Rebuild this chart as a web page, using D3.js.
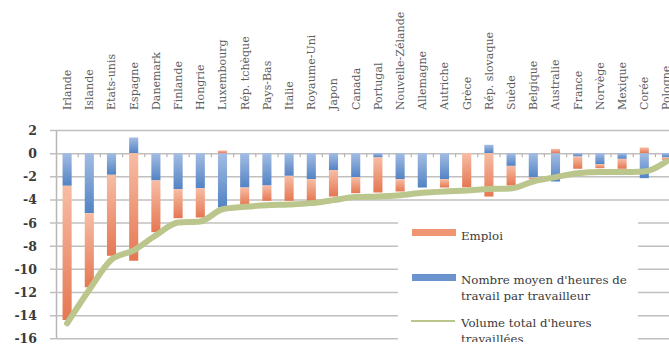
<!DOCTYPE html>
<html>
<head>
<meta charset="utf-8">
<script src="https://cdn.jsdelivr.net/npm/d3@7"></script>
<style>
  body { margin: 0; background: #fff; }
  svg { display: block; }
  .grid line { stroke: #c2c0be; stroke-width: 1.5; }
  .ylab { font-family: "DejaVu Serif", serif; font-size: 12.5px; font-weight: bold; fill: #3a3a3a; }
  .clab { font-family: "DejaVu Serif", serif; font-size: 11px; fill: #5e5e5e; }
  .leg text { font-family: "DejaVu Serif", serif; font-size: 11.8px; fill: #3a3a3a; }
</style>
</head>
<body>
<svg width="669" height="351"></svg>
<script>
// valeurs (variation en %)
const countries = ["Irlande", "Islande", "Etats-unis", "Espagne", "Danemark", "Finlande",
  "Hongrie", "Luxembourg", "Rép. tchèque", "Pays-Bas", "Italie", "Royaume-Uni", "Japon",
  "Canada", "Portugal", "Nouvelle-Zélande", "Allemagne", "Autriche", "Grèce",
  "Rép. slovaque", "Suède", "Belgique", "Australie", "France", "Norvège", "Mexique",
  "Corée", "Pologne"];

const emploi = [-11.6, -6.4, -7.0, -9.3, -4.47, -2.51, -2.53, 0.23, -1.55, -1.32, -2.16,
  -1.87, -2.28, -1.39, -3.03, -1.06, 0.0, -0.72, -2.95, -3.75, -1.7, -0.15, 0.37, -1.06,
  -0.35, -0.86, 0.49, -0.2];

const heures = [-2.82, -5.19, -1.87, 1.35, -2.36, -3.11, -3.03, -4.7, -2.97, -2.8, -1.96,
  -2.25, -1.47, -2.07, -0.37, -2.25, -2.97, -2.25, 0.0, 0.72, -1.1, -2.1, -2.45, -0.29,
  -0.95, -0.49, -2.16, -0.37];

const volume = [-14.7, -11.8, -9.2, -8.4, -7.1, -6.0, -5.9, -4.85, -4.64, -4.5, -4.44,
  -4.32, -4.06, -3.8, -3.75, -3.63, -3.43, -3.31, -3.23, -3.1, -3.05, -2.45, -2.07, -1.73,
  -1.64, -1.64, -1.58, -0.72];

const yTicks = [2, 0, -2, -4, -6, -8, -10, -12, -14, -16];

const seriesNames = ["Emploi", "Nombre moyen d'heures de travail par travailleur",
  "Volume total d'heures travaillées"];

const svg = d3.select("svg");

const x = d3.scaleBand()
  .domain(countries)
  .range([56, 56 + countries.length * 22.2]);

const y = d3.scaleLinear()
  .domain([-16, 2])
  .range([338.3, 130]);

const barW = x.bandwidth() * 0.41;
const cx = d => x(d) + x.bandwidth() / 2;

// dégradés des barres
const defs = svg.append("defs");
const grad = (id, c1, c2) => {
  const g = defs.append("linearGradient").attr("id", id)
    .attr("x1", 0).attr("y1", 0).attr("x2", 0).attr("y2", 1);
  g.append("stop").attr("offset", "0%").attr("stop-color", c1);
  g.append("stop").attr("offset", "100%").attr("stop-color", c2);
};
grad("gOrange", "#f7bda5", "#e57752");
grad("gBlue", "#a4bde3", "#5283c4");

// grille + axe vertical
const yAxis = d3.axisLeft(y)
  .tickValues(yTicks)
  .tickFormat(d => String(d))
  .tickSize(-(669 - 56 + 20))
  .tickSizeOuter(0);

const gy = svg.append("g")
  .attr("class", "grid")
  .attr("transform", "translate(56,0)")
  .call(yAxis);
gy.select(".domain").attr("stroke", "#b8b6b4").attr("stroke-width", 1.5);
gy.selectAll(".tick line").attr("x1", -6);
gy.selectAll(".tick text")
  .attr("class", "ylab")
  .attr("x", -19)
  .attr("dy", "0.36em");

// barres empilées
const rows = countries.map((c, i) => ({ pays: c, heures: heures[i], emploi: emploi[i] }));
const stack = d3.stack()
  .keys(["heures", "emploi"])
  .offset(d3.stackOffsetDiverging);
const stacked = stack(rows);
const fills = { heures: "url(#gBlue)", emploi: "url(#gOrange)" };

svg.append("g").selectAll("g")
  .data(stacked)
  .join("g")
  .attr("fill", s => fills[s.key])
  .selectAll("rect")
  .data(s => s)
  .join("rect")
  .attr("x", d => cx(d.data.pays) - barW / 2)
  .attr("width", barW)
  .attr("y", d => y(Math.max(d[0], d[1])))
  .attr("height", d => Math.abs(y(d[0]) - y(d[1])));

// petites graduations sur l'axe des catégories
svg.append("g").selectAll("line")
  .data(countries)
  .join("line")
  .attr("x1", d => x(d) + x.bandwidth())
  .attr("x2", d => x(d) + x.bandwidth())
  .attr("y1", y(0))
  .attr("y2", y(0) + 4)
  .attr("stroke", "#b8b6b4")
  .attr("stroke-width", 1.2);

// courbe du volume total
const line = d3.line()
  .x((d, i) => cx(countries[i]))
  .y(d => y(d))
  .curve(d3.curveMonotoneX);

svg.append("path")
  .datum(volume)
  .attr("d", line)
  .attr("fill", "none")
  .attr("stroke", "#bbc68c")
  .attr("stroke-width", 6)
  .attr("stroke-linecap", "round")
  .attr("stroke-linejoin", "round");

// noms des pays
svg.append("g").selectAll("text")
  .data(countries)
  .join("text")
  .attr("class", "clab")
  .attr("transform", d => `translate(${cx(d)},110) rotate(-90)`)
  .attr("dy", "0.35em")
  .text(d => d);

// légende
const leg = svg.append("g").attr("class", "leg");
leg.append("rect")
  .attr("x", 398).attr("y", 208)
  .attr("width", 240).attr("height", 150)
  .attr("fill", "#fff");

defs.append("clipPath").attr("id", "legClip")
  .append("rect").attr("x", 398).attr("y", 208).attr("width", 240).attr("height", 134);

leg.append("rect").attr("x", 412).attr("y", 229).attr("width", 44).attr("height", 7)
  .attr("fill", "#ef9572");
leg.append("rect").attr("x", 412).attr("y", 274).attr("width", 44).attr("height", 7)
  .attr("fill", "#6b94cf");
leg.append("line").attr("x1", 411).attr("x2", 455).attr("y1", 321).attr("y2", 321)
  .attr("stroke", "#bbc68c").attr("stroke-width", 2);

const legLines = [
  [seriesNames[0], 239.5],
  ["Nombre moyen d'heures de", 284],
  ["travail par travailleur", 300],
  ["Volume total d'heures", 327],
  ["travaillées", 343]
];
leg.append("g").attr("clip-path", "url(#legClip)")
  .selectAll("text")
  .data(legLines)
  .join("text")
  .attr("x", 461)
  .attr("y", d => d[1])
  .text(d => d[0]);
</script>
</body>
</html>
